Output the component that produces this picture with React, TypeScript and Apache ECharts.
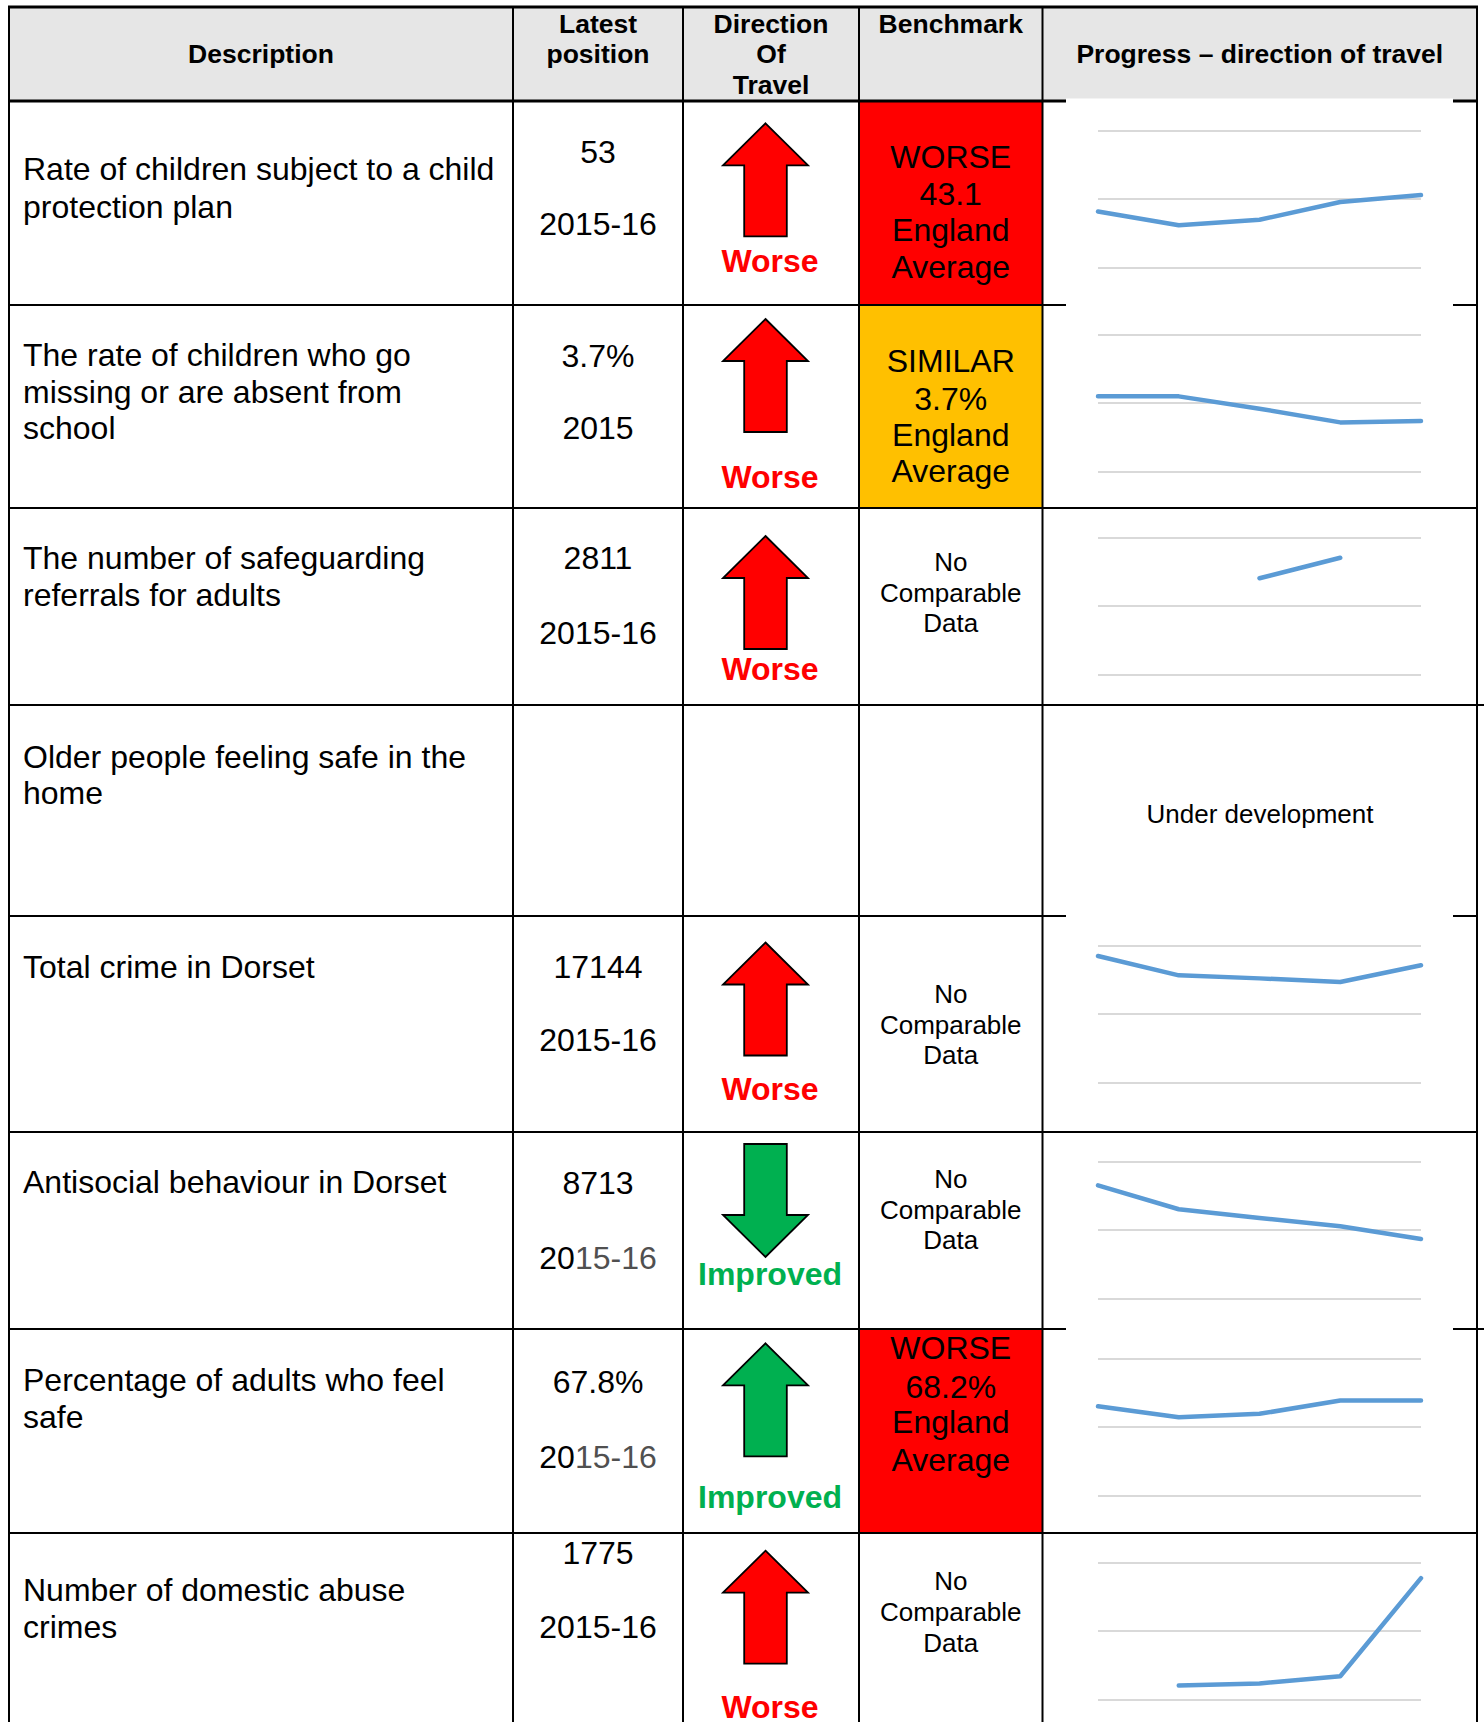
import React, { useEffect, useRef } from "react";
import * as echarts from "echarts";

// ---------- DATA ----------
const headers = ["Description", "Latest position", "Direction Of Travel", "Benchmark", "Progress – direction of travel"];
const descriptions: string[][] = [
  ["Rate of children subject to a child", "protection plan"],
  ["The rate of children who go", "missing or are absent from", "school"],
  ["The number of safeguarding", "referrals for adults"],
  ["Older people feeling safe in the", "home"],
  ["Total crime in Dorset"],
  ["Antisocial behaviour in Dorset"],
  ["Percentage of adults who feel", "safe"],
  ["Number of domestic abuse", "crimes"],
];
const latestValues = ["53", "3.7%", "2811", "", "17144", "8713", "67.8%", "1775"];
const latestPeriods = ["2015-16", "2015", "2015-16", "", "2015-16", "2015-16", "2015-16", "2015-16"];
const directions = ["up", "up", "up", "", "up", "down", "up", "up"];
const directionLabels = ["Worse", "Worse", "Worse", "", "Worse", "Improved", "Improved", "Worse"];
const benchmarkTexts: string[][] = [
  ["WORSE", "43.1", "England", "Average"],
  ["SIMILAR", "3.7%", "England", "Average"],
  ["No", "Comparable", "Data"],
  [],
  ["No", "Comparable", "Data"],
  ["No", "Comparable", "Data"],
  ["WORSE", "68.2%", "England", "Average"],
  ["No", "Comparable", "Data"],
];
const benchmarkStatus = ["worse", "similar", "none", "", "none", "none", "worse", "none"];
const underDevelopment = "Under development";

const periods = ["P1", "P2", "P3", "P4", "P5"];
const cppRate = [41, 31, 35, 48, 53];
const missingPct = [5.5, 5.5, 4.6, 3.6, 3.7];
const safeguardingRefs = [null, null, 2704, 2854, null];
const totalCrime = [18490, 15670, 15230, 14690, 17144];
const antisocial = [16550, 13060, 11790, 10580, 8713];
const feelSafePct = [66.1, 62.9, 63.9, 67.8, 67.8];
const domesticAbuse = [null, 208, 237, 342, 1775];

const sparkSeries = [cppRate, missingPct, safeguardingRefs, null, totalCrime, antisocial, feelSafePct, domesticAbuse];
const sparkAxisMin = [0, 0, 2000, 0, 0, 0, 40, 0];
const sparkAxisMax = [100, 10, 3000, 0, 20000, 20000, 80, 2000];
const sparkAxisStep = [50, 5, 500, 0, 10000, 10000, 20, 1000];

// ---------- LAYOUT ----------
const W = 1484;
const H = 1722;
const colX = [9, 513, 683, 859, 1042.5, 1477];
const rowY = [7, 101, 305, 508, 705, 916, 1132, 1329, 1533];
const FONT = '"Liberation Sans", Arial, Helvetica, sans-serif';
const RED = "#FF0000";
const AMBER = "#FFC000";
const GREEN = "#00B050";
const HDR = 26.5;

const descY: number[][] = [
  [169, 206.5],
  [355, 392, 428.4],
  [558, 595.4],
  [756.8, 793],
  [966.7],
  [1182],
  [1379.7, 1417],
  [1590, 1627.3],
];
const latestY: number[][] = [
  [151.6, 224],
  [356, 428.4],
  [558, 632.7],
  [0, 0],
  [966.7, 1040],
  [1183, 1258],
  [1381.7, 1456.7],
  [1553, 1626.7],
];
const greyYear = [false, false, false, false, false, true, true, false];
const arrowTop = [123.3, 319, 536, 0, 942.5, 1144, 1343.3, 1550.7];
const dirLabelY = [260.7, 476.7, 669, 0, 1088.6, 1274, 1496.7, 1706.5];
const benchY: number[][] = [
  [156.7, 194.3, 230, 266.7],
  [361.4, 398.7, 435, 471.2],
  [562.4, 593.2, 622.8],
  [],
  [994, 1025, 1054.5],
  [1179.3, 1210, 1240],
  [1348.3, 1386.7, 1421.7, 1460],
  [1581, 1612, 1642.7],
];
const coverTopBorder = [true, true, false, false, true, false, true, false];

function txt(text: string, x: number, y: number, size: number, opts: any = {}) {
  const align = opts.align || "center";
  return {
    type: "text",
    x,
    y,
    z: 10,
    silent: true,
    style: {
      text,
      fill: opts.fill || "#000000",
      fontSize: size,
      fontFamily: FONT,
      fontWeight: opts.bold ? "bold" : "normal",
      align,
      verticalAlign: "middle",
      textAlign: align,
      textVerticalAlign: "middle",
    },
  };
}

function arrow(dir: string, cx: number, top: number, fill: string) {
  const hw = 42.5;
  const sw = 21.3;
  const head = 42;
  const total = 113;
  let pts: number[][];
  if (dir === "up") {
    pts = [
      [cx, top],
      [cx + hw, top + head],
      [cx + sw, top + head],
      [cx + sw, top + total],
      [cx - sw, top + total],
      [cx - sw, top + head],
      [cx - hw, top + head],
    ];
  } else {
    const tip = top + total;
    pts = [
      [cx - sw, top],
      [cx + sw, top],
      [cx + sw, tip - head],
      [cx + hw, tip - head],
      [cx, tip],
      [cx - hw, tip - head],
      [cx - sw, tip - head],
    ];
  }
  return {
    type: "polygon",
    z: 9,
    silent: true,
    shape: { points: pts },
    style: { fill, stroke: "#000000", lineWidth: 1.8, lineJoin: "miter" },
  };
}

function buildOption() {
  const g: any[] = [];
  g.push({ type: "rect", z: 1, shape: { x: colX[0], y: rowY[0], width: colX[5] - colX[0], height: rowY[1] - rowY[0] }, style: { fill: "#E6E6E6" } });
  benchmarkStatus.forEach((s, i) => {
    if (s === "worse" || s === "similar") {
      g.push({
        type: "rect",
        z: 1,
        shape: { x: colX[3], y: rowY[i + 1], width: colX[4] - colX[3], height: rowY[i + 2] - rowY[i + 1] },
        style: { fill: s === "worse" ? RED : AMBER },
      });
    }
  });
  colX.forEach((x) => {
    g.push({ type: "line", z: 3, shape: { x1: x, y1: rowY[0] - 1, x2: x, y2: H }, style: { stroke: "#000", lineWidth: 2 } });
  });
  rowY.forEach((y, i) => {
    const extend = i === 4 || i === 7;
    g.push({
      type: "line",
      z: 3,
      shape: { x1: colX[0] - 1, y1: y, x2: extend ? W : colX[5] + 1, y2: y },
      style: { stroke: "#000", lineWidth: i <= 1 ? 2.8 : 2 },
    });
  });
  coverTopBorder.forEach((c, i) => {
    if (c) {
      g.push({ type: "rect", z: 4, shape: { x: 1066, y: rowY[i + 1] - 2.5, width: 387, height: 5 }, style: { fill: "#FFFFFF" } });
    }
  });
  const hdrMid = [(colX[0] + colX[1]) / 2, (colX[1] + colX[2]) / 2, (colX[2] + colX[3]) / 2, (colX[3] + colX[4]) / 2, (colX[4] + colX[5]) / 2];
  g.push(txt(headers[0], hdrMid[0], 54, HDR, { bold: true }));
  const latestWords = headers[1].split(" ");
  g.push(txt(latestWords[0], hdrMid[1], 24.2, HDR, { bold: true }));
  g.push(txt(latestWords[1], hdrMid[1], 53.8, HDR, { bold: true }));
  const dirWords = headers[2].split(" ");
  g.push(txt(dirWords[0], hdrMid[2], 24.2, HDR, { bold: true }));
  g.push(txt(dirWords[1], hdrMid[2], 53.8, HDR, { bold: true }));
  g.push(txt(dirWords[2], hdrMid[2], 84.6, HDR, { bold: true }));
  g.push(txt(headers[3], hdrMid[3], 24.2, HDR, { bold: true }));
  g.push(txt(headers[4], hdrMid[4], 54, HDR, { bold: true }));

  for (let i = 0; i < 8; i++) {
    descriptions[i].forEach((line, k) => g.push(txt(line, 23, descY[i][k], 32, { align: "left" })));
    if (latestValues[i]) {
      g.push(txt(latestValues[i], hdrMid[1], latestY[i][0], 32));
      if (greyYear[i]) {
        const split = hdrMid[1] - 117.4 / 2 + 35.6;
        g.push(txt(latestPeriods[i].slice(0, 2), split, latestY[i][1], 32, { align: "right" }));
        g.push(txt(latestPeriods[i].slice(2), split, latestY[i][1], 32, { align: "left", fill: "#505050" }));
      } else {
        g.push(txt(latestPeriods[i], hdrMid[1], latestY[i][1], 32));
      }
    }
    if (directions[i]) {
      const col = directionLabels[i] === "Worse" ? RED : GREEN;
      g.push(arrow(directions[i], 765.5, arrowTop[i], col));
      g.push(txt(directionLabels[i], 770, dirLabelY[i], 32, { bold: true, fill: col }));
    }
    const bt = benchmarkTexts[i];
    const size = benchmarkStatus[i] === "none" ? 26 : 32;
    bt.forEach((line, k) => g.push(txt(line, hdrMid[3], benchY[i][k], size)));
  }
  g.push(txt(underDevelopment, 1260, 814, 26));

  const grids: any[] = [];
  const xAxes: any[] = [];
  const yAxes: any[] = [];
  const series: any[] = [];
  let gi = 0;
  sparkSeries.forEach((data, i) => {
    if (!data) return;
    grids.push({ left: 1098, width: 323, top: rowY[i + 1] + 29.7, height: 137, containLabel: false, z: 5 });
    xAxes.push({
      type: "category",
      gridIndex: gi,
      data: periods,
      boundaryGap: false,
      axisLine: { show: false },
      axisTick: { show: false },
      axisLabel: { show: false },
      splitLine: { show: false },
    });
    yAxes.push({
      type: "value",
      gridIndex: gi,
      min: sparkAxisMin[i],
      max: sparkAxisMax[i],
      interval: sparkAxisStep[i],
      axisLine: { show: false },
      axisTick: { show: false },
      axisLabel: { show: false },
      splitLine: { show: true, lineStyle: { color: "#D9D9D9", width: 2 } },
    });
    series.push({
      type: "line",
      xAxisIndex: gi,
      yAxisIndex: gi,
      data,
      showSymbol: false,
      symbol: "none",
      connectNulls: false,
      z: 6,
      lineStyle: { color: "#5B9BD5", width: 4.5, cap: "round", join: "round" },
      silent: true,
    });
    gi++;
  });

  return {
    animation: false,
    backgroundColor: "#FFFFFF",
    grid: grids,
    xAxis: xAxes,
    yAxis: yAxes,
    series,
    graphic: g,
  };
}

export default function App() {
  const ref = useRef<HTMLDivElement>(null);
  useEffect(() => {
    document.body.style.margin = "0";
    const chart = echarts.init(ref.current!, undefined, { renderer: "svg", width: W, height: H });
    chart.setOption(buildOption() as any);
    return () => chart.dispose();
  }, []);
  return <div ref={ref} style={{ position: "absolute", left: 0, top: 0, width: W, height: H, background: "#fff" }} />;
}
